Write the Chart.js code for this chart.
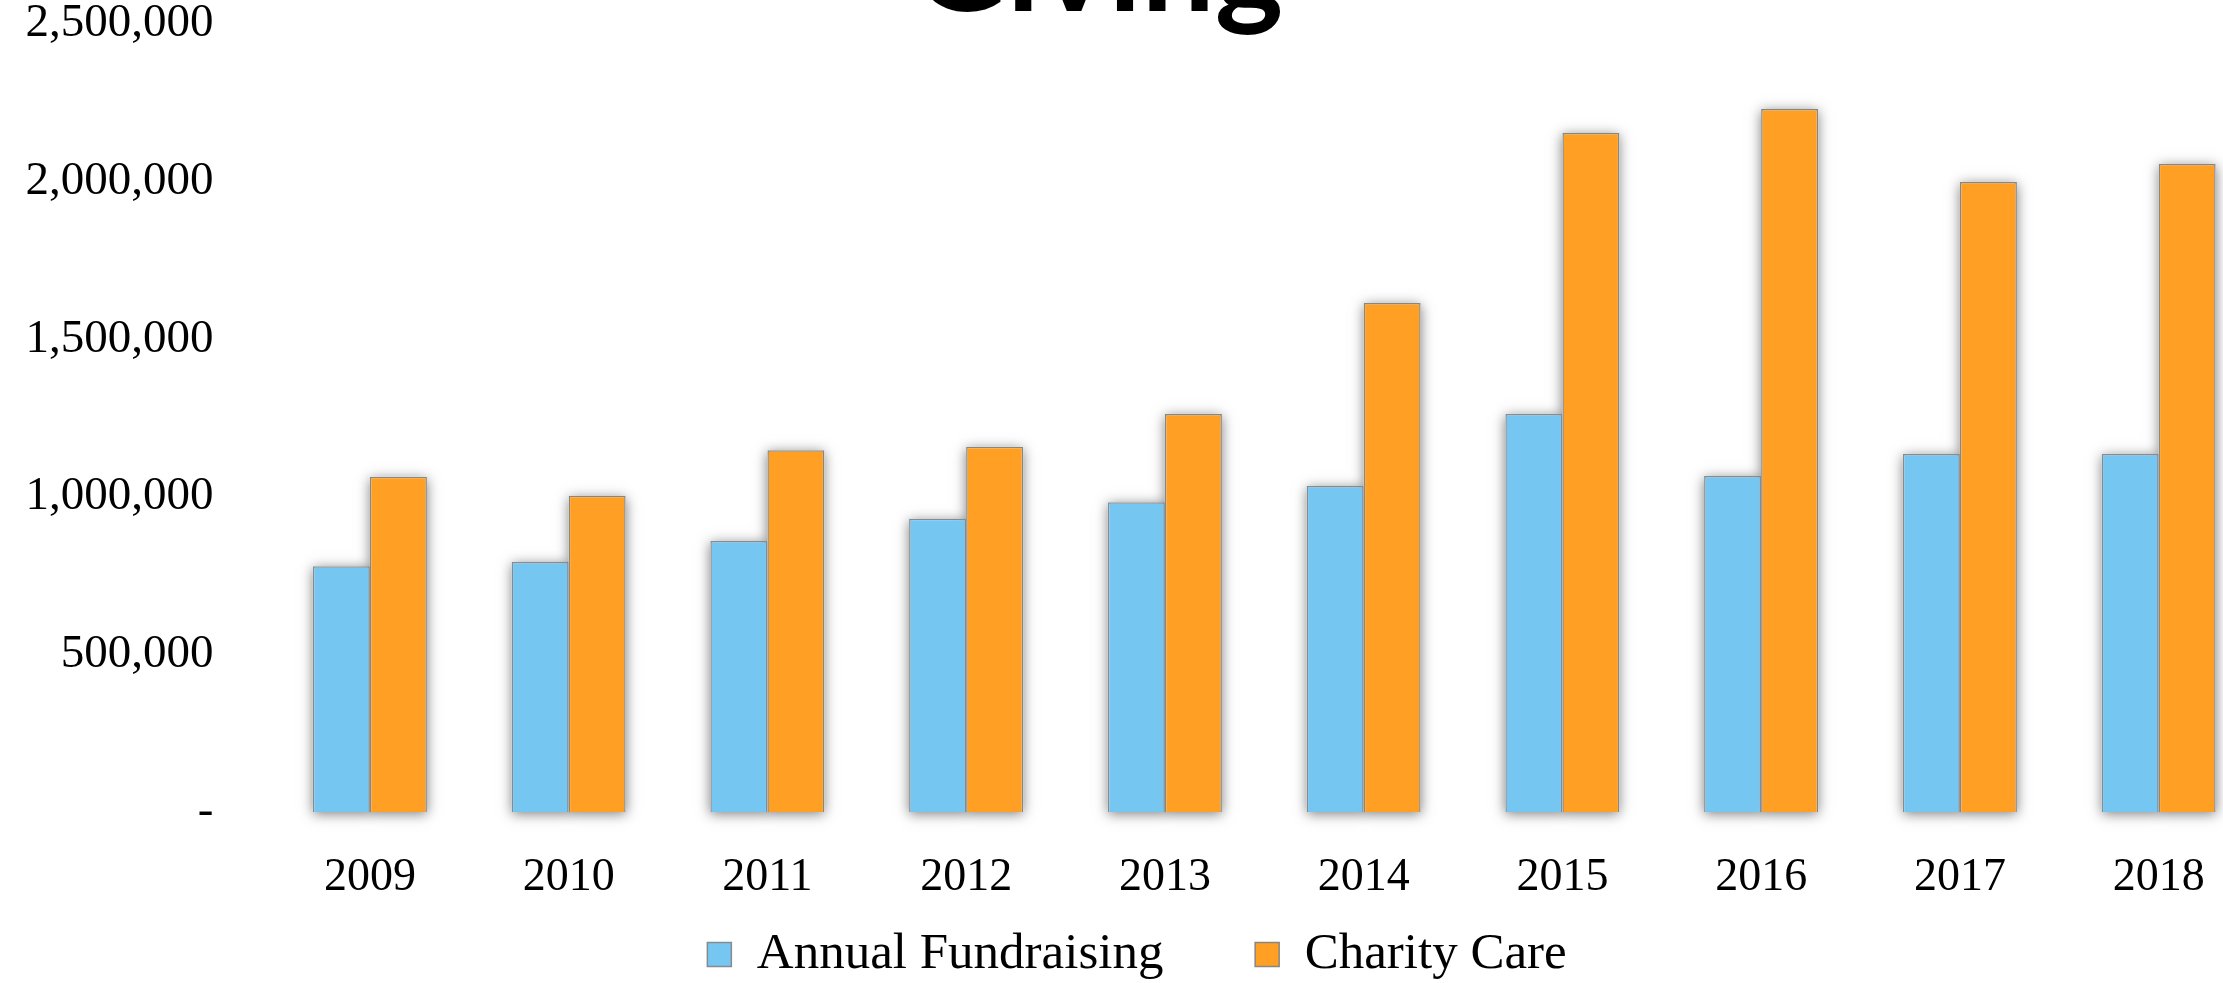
<!DOCTYPE html>
<html>
<head>
<meta charset="utf-8">
<title>Giving</title>
<script src="https://cdn.jsdelivr.net/npm/chart.js@4/dist/chart.umd.min.js"></script>
<style>
  html, body { margin: 0; padding: 0; background: #ffffff; overflow: hidden; }
  body { width: 2223px; height: 983px; position: relative; }
  #chart { position: absolute; left: 0; top: 0; display: block; }
</style>
</head>
<body>
<canvas id="chart" width="2280" height="1000"></canvas>
<script>
// Fiscal years on the category axis
const years = ['2009', '2010', '2011', '2012', '2013', '2014', '2015', '2016', '2017', '2018'];

// Dollars raised through annual fundraising
const annualFundraising = [780000, 793000, 860000, 930000, 983000, 1034000, 1263000, 1066000, 1136000, 1136000];

// Dollars of charity care provided
const charityCare = [1064000, 1003000, 1148000, 1159000, 1263000, 1615000, 2154000, 2230000, 1999000, 2056000];

// Value-axis labels, bottom to top
const yTickLabels = ['-', '500,000', '1,000,000', '1,500,000', '2,000,000', '2,500,000'];

const seriesNames = ['Annual Fundraising', 'Charity Care'];
const titleText = 'Giving';

// Soft drop shadow drawn beneath every bar before the bars themselves
const barShadow = {
  id: 'barShadow',
  beforeDatasetsDraw(chart) {
    const ctx = chart.ctx;
    ctx.save();
    ctx.shadowColor = 'rgba(0,0,0,0.5)';
    ctx.shadowBlur = 12;
    ctx.shadowOffsetX = 0;
    ctx.shadowOffsetY = 2;
    ctx.fillStyle = '#ffffff';
    chart.data.datasets.forEach((ds, i) => {
      chart.getDatasetMeta(i).data.forEach(bar => {
        const p = bar.getProps(['x', 'y', 'base', 'width'], true);
        ctx.fillRect(p.x - p.width / 2, Math.min(p.y, p.base), p.width, Math.abs(p.base - p.y));
      });
    });
    ctx.restore();
  }
};

// Large heading that runs off the top edge
const headline = {
  id: 'headline',
  afterDraw(chart) {
    const ctx = chart.ctx;
    ctx.save();
    ctx.font = 'bold 130px Lato';
    ctx.fillStyle = '#000000';
    ctx.textAlign = 'center';
    ctx.textBaseline = 'alphabetic';
    ctx.fillText(titleText, 1098, 11);
    ctx.restore();
  }
};

new Chart(document.getElementById('chart'), {
  type: 'bar',
  data: {
    labels: years,
    datasets: [
      {
        label: seriesNames[0],
        data: annualFundraising,
        backgroundColor: '#75C6F0',
        borderColor: '#858b90',
        borderWidth: 1.5,
        barPercentage: 1,
        categoryPercentage: 0.574
      },
      {
        label: seriesNames[1],
        data: charityCare,
        backgroundColor: '#FFA024',
        borderColor: '#88867f',
        borderWidth: 1.5,
        barPercentage: 1,
        categoryPercentage: 0.574
      }
    ]
  },
  options: {
    responsive: false,
    maintainAspectRatio: false,
    devicePixelRatio: 1,
    animation: false,
    layout: { padding: { top: 24, left: 16, right: 22, bottom: 10 } },
    plugins: {
      title: { display: false },
      tooltip: { enabled: false },
      legend: {
        position: 'bottom',
        align: 'center',
        labels: {
          boxWidth: 24,
          boxHeight: 24,
          padding: 28,
          color: '#000000',
          font: { family: '"Liberation Serif"', size: 51 },
          generateLabels(chart) {
            const items = Chart.defaults.plugins.legend.labels.generateLabels(chart);
            // widen the gap after the first entry
            items[0].text = items[0].text + '     ';
            return items;
          }
        }
      }
    },
    scales: {
      x: {
        grid: { display: false, drawTicks: false },
        border: { display: false },
        ticks: {
          color: '#000000',
          padding: 43,
          font: { family: '"Liberation Serif"', size: 46, lineHeight: 1 }
        },
        afterFit(scale) { scale.height = 89; }
      },
      y: {
        min: 0,
        max: 2500000,
        grid: { display: false, drawTicks: false },
        border: { display: false },
        ticks: {
          stepSize: 500000,
          color: '#000000',
          padding: 57,
          font: { family: '"Liberation Serif"', size: 47, lineHeight: 1 },
          callback: (value, index) => yTickLabels[index]
        },
        afterFit(scale) {
          scale.width = 254.5;
          scale.paddingTop = 23.5;
          scale.paddingBottom = 23.5;
        }
      }
    }
  },
  plugins: [barShadow, headline]
});
</script>
</body>
</html>
